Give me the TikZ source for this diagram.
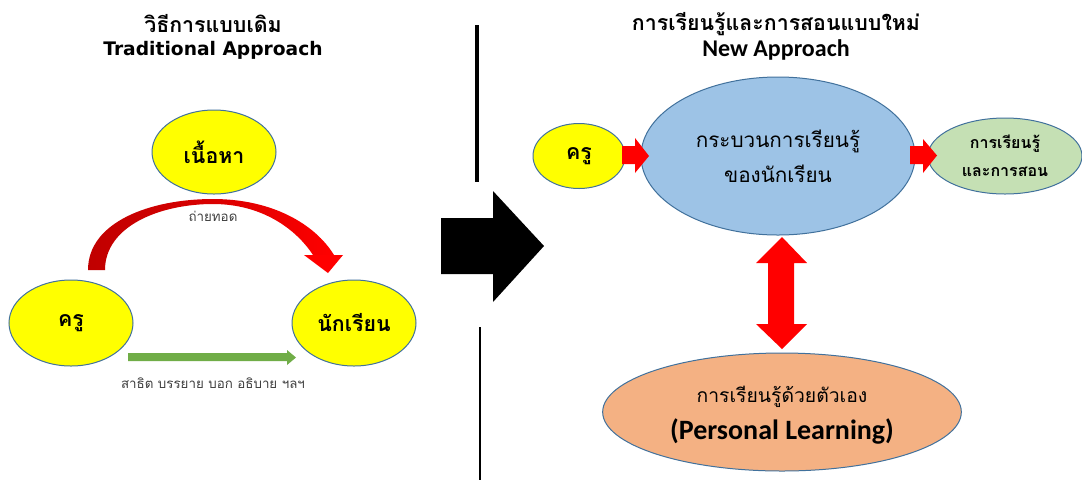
\documentclass[tikz,border=0pt]{standalone}
\usepackage{fontspec}
\usetikzlibrary{shapes.geometric}
\newfontfamily\thaif[Script=Thai]{Loma}
\newfontfamily\tahf{DejaVu Sans}
\newfontfamily\calf{Carlito}
\definecolor{edgeblue}{HTML}{41719C}
\definecolor{ovyellow}{HTML}{FFFF00}
\definecolor{ovblue}{HTML}{9DC3E6}
\definecolor{ovgreen}{HTML}{C5E0B4}
\definecolor{ovorange}{HTML}{F4B183}
\definecolor{arrgreen}{HTML}{70AD47}
\definecolor{darkred}{HTML}{C00000}
\definecolor{labgray}{HTML}{404040}
\begin{document}
\begin{tikzpicture}[x=0.75pt,y=-0.75pt,
  oval/.style={ellipse, draw=edgeblue, line width=0.75pt, inner sep=0pt, align=center},
  titlethai/.style={font=\thaif\bfseries\fontsize{16}{18}\selectfont, inner sep=0pt},
  titlelat/.style={font=\tahf\bfseries\fontsize{14}{16}\selectfont, inner sep=0pt},
  nodethai/.style={font=\thaif\bfseries\fontsize{16}{18}\selectfont},
  smalllab/.style={font=\thaif\fontsize{10}{12}\selectfont, text=labgray}
]
\useasboundingbox (0,0) rectangle (1082,480);
\fill[white] (0,0) rectangle (1082,480);

% titles
\node[titlethai] (tl1) at (213,24) {วิธีการแบบเดิม};
\node[titlelat] (tl2) at (213,50) {Traditional Approach};
\node[titlethai] (tr1) at (776,24) {การเรียนรู้และการสอนแบบใหม่};
\node[font=\calf\bfseries\fontsize{18}{20}\selectfont, inner sep=0pt] (tr2) at (776,50) {New Approach};

% dividers
\draw[line width=2.5pt] (477,25) -- (477,182);
\draw[line width=2pt] (480,327) -- (480,480);

% left ovals
\node[oval, fill=ovyellow, minimum width=93pt, minimum height=63pt, nodethai] (content) at (214,152) {เนื้อหา};
\node[oval, fill=ovyellow, minimum width=93pt, minimum height=64.5pt, nodethai] (teacherL) at (71,323) {ครู};
\node[oval, fill=ovyellow, minimum width=93pt, minimum height=64.5pt, nodethai] (studentL) at (354,323) {นักเรียน};

% curved red arrow
\shade[left color=darkred, right color=red, middle color=red!85!black]
  (88,270) .. controls (88,222) and (150,199) .. (213,199)
  .. controls (272,199) and (315,224) .. (334,255)
  -- (313,255)
  .. controls (296,229) and (262,204) .. (213,204)
  .. controls (160,204) and (105,226) .. (105,270) -- cycle;
\fill[red] (304,255) -- (343,255) -- (328,273) -- cycle;
\node[smalllab] (transfer) at (213,216) {ถ่ายทอด};

% green arrow
\fill[arrgreen] (128,353) -- (287,353) -- (287,350) -- (296,357.5) -- (287,365) -- (287,361) -- (128,361) -- cycle;
\node[smalllab] (methods) at (213,383) {สาธิต บรรยาย บอก อธิบาย ฯลฯ};

% black arrow
\fill[black] (441,218) -- (493,218) -- (493,191) -- (544,246) -- (493,302) -- (493,274) -- (441,274) -- cycle;

% right ovals
\node[oval, fill=ovyellow, minimum width=69pt, minimum height=48.75pt, nodethai] (teacherR) at (579,156) {ครู};
\node[oval, fill=ovblue, minimum width=205.5pt, minimum height=118.5pt, font=\thaif\fontsize{15.5}{26}\selectfont] (process) at (778,156) {กระบวนการเรียนรู้\\ของนักเรียน};
\node[oval, fill=ovgreen, minimum width=115.5pt, minimum height=57pt, font=\thaif\bfseries\fontsize{12}{21}\selectfont] (result) at (1005,156) {การเรียนรู้\\และการสอน};
\node[oval, fill=ovorange, minimum width=269pt, minimum height=88.5pt] (personal) at (782,412) {};
\node[font=\thaif\fontsize{14.5}{17}\selectfont] (pers1) at (782,397) {การเรียนรู้ด้วยตัวเอง};
\node[font=\calf\bfseries\fontsize{21}{23}\selectfont] (pers2) at (782,431) {(Personal Learning)};

% red block arrows
\fill[red] (622,146) -- (635,146) -- (635,138) -- (649,156) -- (635,173) -- (635,164) -- (622,164) -- cycle;
\fill[red] (910,146) -- (923,146) -- (923,139) -- (937,155.5) -- (923,173) -- (923,164) -- (910,164) -- cycle;
\fill[red] (782,237) -- (807,263) -- (794,263) -- (794,324) -- (807,324) -- (782,349) -- (756,324) -- (768,324) -- (768,263) -- (756,263) -- cycle;
\end{tikzpicture}
\end{document}
